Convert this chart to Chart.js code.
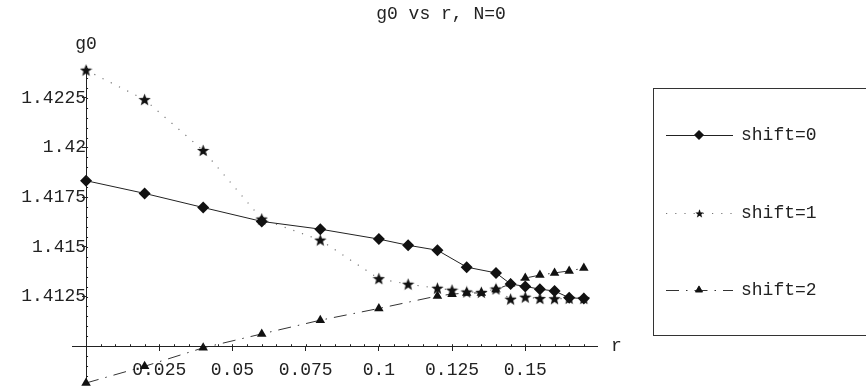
<!DOCTYPE html>
<html>
<head>
<meta charset="utf-8">
<title>g0 vs r, N=0</title>
<script src="https://cdn.jsdelivr.net/npm/chart.js@4.4.0/dist/chart.umd.min.js"></script>
<style>
  html, body { margin: 0; padding: 0; background: #fff; }
  canvas { display: block; }
</style>
</head>
<body>
<canvas id="g0chart" width="866" height="390"></canvas>
<script>
// data
var chartTitle = "g0 vs r, N=0";
var seriesNames = ["shift=0", "shift=1", "shift=2"];

var rShift0 = [0, 0.02, 0.04, 0.06, 0.08, 0.1, 0.11, 0.12, 0.13, 0.14, 0.145, 0.15, 0.155, 0.16, 0.165, 0.17];
var g0Shift0 = [1.41833, 1.41769, 1.41698, 1.41628, 1.41589, 1.41539, 1.41508, 1.41483, 1.41398, 1.41369,
                1.41313, 1.41301, 1.41287, 1.41278, 1.41244, 1.41240];

var rShift1 = [0, 0.02, 0.04, 0.06, 0.08, 0.1, 0.11, 0.12, 0.125, 0.13, 0.135, 0.14, 0.145, 0.15, 0.155, 0.16, 0.165, 0.17];
var g0Shift1 = [1.42389, 1.42241, 1.41985, 1.41640, 1.41534, 1.41340, 1.41312, 1.41292, 1.41282, 1.41273, 1.41271,
                1.41288, 1.41237, 1.41247, 1.41240, 1.41239, 1.41241, 1.41240];

var rShift2 = [0, 0.02, 0.04, 0.06, 0.08, 0.1, 0.12, 0.125, 0.13, 0.135, 0.14, 0.145, 0.15, 0.155, 0.16, 0.165, 0.17];
var g0Shift2 = [1.40815, 1.40899, 1.40992, 1.41062, 1.41131, 1.41190, 1.41253, 1.41262, 1.41268, 1.41268, 1.41285,
                1.41314, 1.41343, 1.41358, 1.41369, 1.41379, 1.41393];

var xTicks = [0.025, 0.05, 0.075, 0.1, 0.125, 0.15];
var yTicks = [1.4125, 1.415, 1.4175, 1.42, 1.4225];
var xMinorStep = 0.005, yMinorStep = 0.0005;

var MONO = '"Liberation Mono", "Courier New", monospace';
var INK = '#222';

function zip(xs, ys) {
    return xs.map(function(x, i) { return { x: x, y: ys[i] }; });
}

// filled five point star for shift=1
function makeStar(size) {
    var c = document.createElement('canvas');
    c.width = size; c.height = size;
    var g = c.getContext('2d');
    var cx = size / 2, cy = size / 2 + 0.5, ro = size / 2, ri = ro * 0.42;
    g.beginPath();
    for (var i = 0; i < 10; i++) {
        var r = i % 2 ? ri : ro;
        var a = -Math.PI / 2 + i * Math.PI / 5;
        g.lineTo(cx + r * Math.cos(a), cy + r * Math.sin(a));
    }
    g.closePath();
    g.fillStyle = '#111';
    g.fill();
    return c;
}
var starImg = makeStar(13);

// axes sit inside the plot, so they should not push the chart area around
function noRoom(s) {
    if (s.isHorizontal()) s.height = 0; else s.width = 0;
    s.paddingTop = s.paddingBottom = s.paddingLeft = s.paddingRight = 0;
}

// title, axis names, minor ticks and the boxed legend
var decorPlugin = {
    id: 'decor',
    afterDraw: function(chart) {
        var ctx = chart.ctx;
        var xs = chart.scales.x, ys = chart.scales.y;
        var x0 = xs.getPixelForValue(0), y0 = ys.getPixelForValue(1.41);
        ctx.save();
        ctx.strokeStyle = INK;
        ctx.lineWidth = 1;
        // minor ticks
        ctx.beginPath();
        for (var v = xMinorStep; v < xs.max; v += xMinorStep) {
            var px = Math.round(xs.getPixelForValue(v)) + 0.5;
            ctx.moveTo(px, y0); ctx.lineTo(px, y0 - 2);
        }
        for (var w = 1.41 - 3 * yMinorStep; w < ys.max; w += yMinorStep) {
            var py = Math.round(ys.getPixelForValue(w)) + 0.5;
            ctx.moveTo(x0, py); ctx.lineTo(x0 + 2, py);
        }
        ctx.stroke();

        ctx.fillStyle = INK;
        ctx.font = '18px ' + MONO;
        ctx.textBaseline = 'middle';
        ctx.textAlign = 'center';
        ctx.fillText(chartTitle, 441, 14);
        ctx.fillText('g0', x0, 44);
        ctx.textAlign = 'left';
        ctx.fillText('r', xs.right + 14, y0);

        // legend
        var bx = 653.5, by = 88.5, bw = 230, bh = 247;
        ctx.strokeStyle = '#333';
        ctx.strokeRect(bx, by, bw, bh);
        var rows = [135, 213, 290];
        chart.data.datasets.forEach(function(ds, i) {
            var yy = rows[i];
            ctx.save();
            ctx.strokeStyle = ds.borderColor;
            ctx.lineWidth = ds.borderWidth;
            ctx.setLineDash(ds.borderDash || []);
            ctx.beginPath();
            ctx.moveTo(666, yy + 0.5);
            ctx.lineTo(733, yy + 0.5);
            ctx.stroke();
            ctx.restore();
            var ps = ds.pointStyle;
            if (ps instanceof HTMLCanvasElement) {
                ctx.drawImage(ps, 699 - 4, yy - 4, 9, 9);
            } else {
                Chart.helpers.drawPoint(ctx, {
                    pointStyle: ps, radius: ds.pointRadius * 0.75, borderWidth: 1, rotation: 0
                }, 699, yy);
                ctx.fillStyle = '#111';
                ctx.fill();
            }
            ctx.fillStyle = INK;
            ctx.textAlign = 'left';
            ctx.fillText(seriesNames[i], 741, yy);
        });
        ctx.restore();
    }
};

var ctx = document.getElementById('g0chart').getContext('2d');
var g0Chart = new Chart(ctx, {
    type: 'scatter',
    data: {
        datasets: [{
            label: seriesNames[0],
            data: zip(rShift0, g0Shift0),
            showLine: true,
            borderColor: '#222',
            borderWidth: 1,
            borderDash: [],
            pointStyle: 'rectRot',
            pointRadius: 6,
            pointBackgroundColor: '#111',
            pointBorderColor: '#111',
            pointBorderWidth: 0
        }, {
            label: seriesNames[1],
            data: zip(rShift1, g0Shift1),
            showLine: true,
            borderColor: '#777',
            borderWidth: 1.2,
            borderDash: [1.2, 8],
            pointStyle: starImg,
            pointRadius: 6
        }, {
            label: seriesNames[2],
            data: zip(rShift2, g0Shift2),
            showLine: true,
            borderColor: '#333',
            borderWidth: 1,
            borderDash: [13, 7, 1.5, 7],
            pointStyle: 'triangle',
            pointRadius: 5.5,
            pointBackgroundColor: '#111',
            pointBorderColor: '#111',
            pointBorderWidth: 0
        }]
    },
    options: {
        responsive: false,
        animation: false,
        clip: false,
        layout: { padding: { left: 72, right: 269, top: 66, bottom: 2 } },
        plugins: {
            legend: { display: false },
            tooltip: { enabled: false },
            title: { display: false }
        },
        scales: {
            x: {
                type: 'linear',
                min: -0.0048,
                max: 0.1745,
                position: { y: 1.41 },
                afterFit: noRoom,
                afterBuildTicks: function(s) { s.ticks = xTicks.map(function(v) { return { value: v }; }); },
                grid: { drawOnChartArea: false, drawTicks: true, tickLength: 4, color: INK },
                border: { display: true, color: INK, width: 1 },
                ticks: {
                    color: INK,
                    font: { family: MONO, size: 18 },
                    padding: 9,
                    maxRotation: 0,
                    autoSkip: false,
                    callback: function(v) { return String(v); }
                }
            },
            y: {
                type: 'linear',
                // chart area ends a few px short, so the range is cut to keep the reference's px per unit
                min: 1.40816,
                max: 1.4241,
                position: { x: 0 },
                afterFit: noRoom,
                afterBuildTicks: function(s) { s.ticks = yTicks.map(function(v) { return { value: v }; }); },
                grid: { drawOnChartArea: false, drawTicks: true, tickLength: 4, color: INK },
                border: { display: true, color: INK, width: 1 },
                ticks: {
                    color: INK,
                    font: { family: MONO, size: 18 },
                    padding: 8,
                    autoSkip: false,
                    callback: function(v) { return String(v); }
                }
            }
        }
    },
    plugins: [decorPlugin]
});
</script>
</body>
</html>
